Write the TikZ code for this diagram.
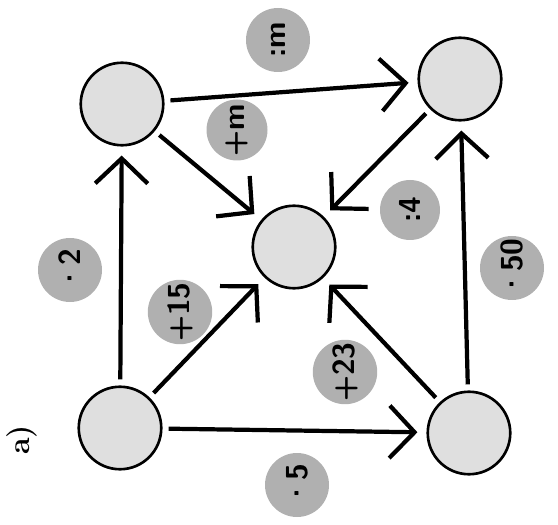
\documentclass[tikz,border=0pt]{standalone}
\usetikzlibrary{arrows.meta}
\tikzset{
  cell/.style={circle, draw, line width=1.5pt, fill=gray!25, minimum size=16.5mm, inner sep=0pt},
  opdisk/.style={circle, fill=gray!62, minimum size=12.8mm, inner sep=0pt, rotate=90, font=\sffamily\bfseries\LARGE},
  arr/.style={line width=2.4pt, -{Straight Barb[length=5mm,width=10.5mm]}, shorten >=1.8mm, shorten <=1.2mm}
}
\begin{document}
\begin{tikzpicture}[x=0.2mm, y=-0.2mm]
        \useasboundingbox (0,0) rectangle (558,525);
        %cells
        \node[cell] (tl) at (122,104) {};
        \node[cell] (tr) at (460,79) {};
        \node[cell] (c) at (294,247) {};
        \node[cell] (bl) at (120,428) {};
        \node[cell] (br) at (469,433) {};
        %operators
        \node[opdisk] (top) at (278,40) {:m};
        \node[opdisk, minimum size=12.2mm] (pm) at (237,130) {+m};
        \node[opdisk] (left) at (70,270) {·2};
        \node[opdisk, minimum size=12.2mm] (p15) at (180,312) {+15};
        \node[opdisk, minimum size=12.2mm] (p23) at (345,372) {+23};
        \node[opdisk, minimum size=12mm] (d4) at (410,210) {:4};
        \node[opdisk] (right) at (512,268) {·50};
        \node[opdisk] (bottom) at (297,485) {·5};
        \node[rotate=90, font=\LARGE\bfseries] (lbl) at (22,440) {a)};
        %arrows
        \draw[arr] (tl) -- (tr);
        \draw[arr] (bl) -- (tl);
        \draw[arr] (bl) -- (br);
        \draw[arr] (br) -- (tr);
        \draw[arr] (tl) -- (c);
        \draw[arr] (tr) -- (c);
        \draw[arr] (bl) -- (c);
        \draw[arr] (br) -- (c);
    \end{tikzpicture}
\end{document}
